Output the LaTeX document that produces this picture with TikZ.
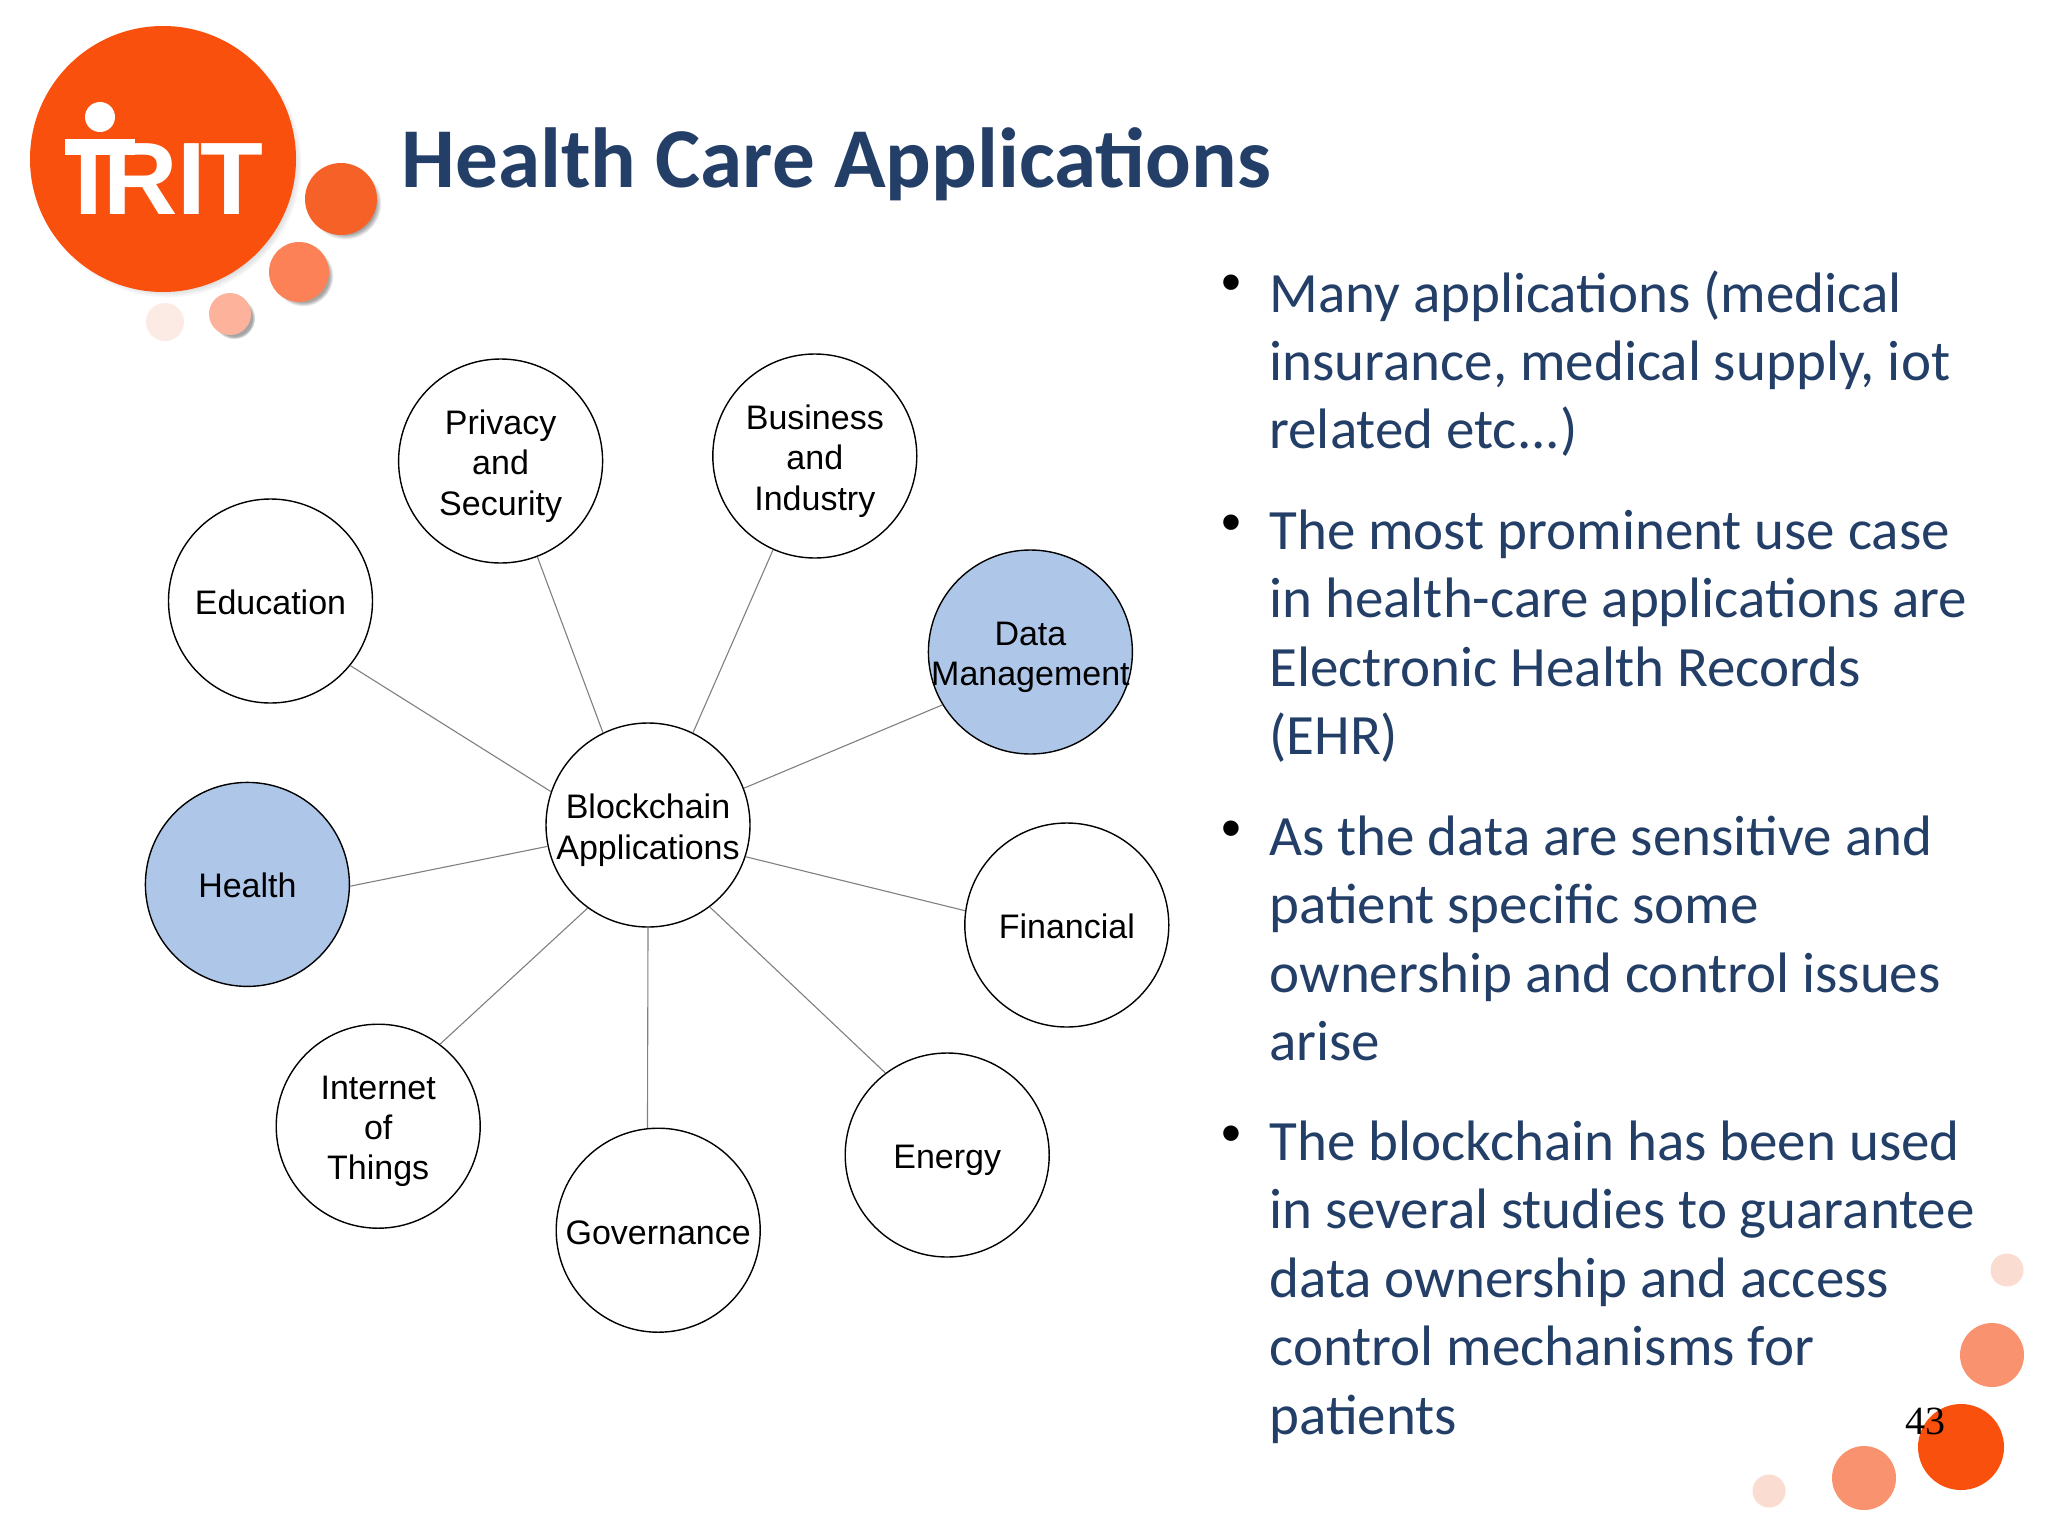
\documentclass[tikz,border=0pt]{standalone}
\usepackage{fontspec}
\usetikzlibrary{shadows}
\setmainfont{Liberation Sans}
\newfontfamily\carlitofont{Carlito}
\newfontfamily\timesfont{Liberation Serif}
\definecolor{irit}{HTML}{F9500D}
\definecolor{navy}{HTML}{233F68}
\definecolor{bubbleblue}{HTML}{AEC6E8}
\tikzset{
  bubble/.style={circle, draw=black, line width=0.7pt, fill=white, minimum size=102pt, inner sep=0pt},
  bubbletext/.style={align=center, inner sep=0pt, text=black, font=\fontsize{17}{20.2}\selectfont},
  link/.style={draw=black!50, line width=0.55pt},
  ball/.style={circular drop shadow={shadow xshift=2pt, shadow yshift=-2pt, shadow scale=1.01, opacity=0.7}},
  bodytext/.style={anchor=north west, align=left, inner sep=0pt, text=navy, font=\carlitofont\fontsize{28.5}{34.2}\selectfont},
  dotmark/.style={inner sep=0pt, text=black, font=\fontsize{28.4}{34}\selectfont}
}
\begin{document}
\begin{tikzpicture}[x=0.5pt, y=-0.5pt]
  \useasboundingbox (0,0) rectangle (2048,1536);
  \fill[white] (0,0) rectangle (2048,1536);

  \fill[irit, ball] (163,159) circle (133);
  \fill[white] (65,139) rectangle (135,155);
  \fill[white] (100,117) circle (15);
  \node (logotext) at (74,214) [anchor=base west, inner sep=0pt, text=white, font=\bfseries\fontsize{51.5}{51.5}\selectfont] {IRI\kern-3pt T};
  \fill[fill={rgb,255:red,246;green,97;blue,40}, ball] (341,199) circle (36);
  \fill[fill={rgb,255:red,252;green,129;blue,86}, ball] (299,272) circle (30);
  \fill[fill={rgb,255:red,253;green,179;blue,155}, ball] (230,314) circle (21);
  \fill[fill={rgb,255:red,252;green,235;blue,228}] (165,322) circle (19);

  \node (title) at (401,187) [anchor=base west, inner sep=0pt, text=navy, font=\carlitofont\bfseries\fontsize{42.6}{50}\selectfont] {Health Care Applications};

  \node (hub) at (648,825) [bubble, label={[bubbletext, yshift=-2.6pt]center:Blockchain\\Applications}] {};
  \node (privacy) at (500.6,461) [bubble, label={[bubbletext, yshift=-2.6pt]center:Privacy\\and\\Security}] {};
  \node (business) at (814.8,456) [bubble, label={[bubbletext, yshift=-2.6pt]center:Business\\and\\Industry}] {};
  \node (education) at (270.5,601) [bubble, label={[bubbletext, yshift=-0.6pt]center:Education}] {};
  \node (datamgmt) at (1030.4,652) [bubble, fill=bubbleblue, label={[bubbletext, yshift=-2.6pt]center:Data\\Management}] {};
  \node (health) at (247.4,884.4) [bubble, fill=bubbleblue, label={[bubbletext, yshift=-0.6pt]center:Health}] {};
  \node (financial) at (1066.8,925) [bubble, label={[bubbletext, yshift=-0.6pt]center:Financial}] {};
  \node (iot) at (378.2,1126.2) [bubble, label={[bubbletext, yshift=-2.6pt]center:Internet\\of\\Things}] {};
  \node (governance) at (658.2,1230.2) [bubble, label={[bubbletext, yshift=-1.3pt]center:Governance}] {};
  \node (energy) at (947.2,1155) [bubble, label={[bubbletext, yshift=-2.6pt]center:Energy}] {};

  \foreach \target/\from/\to in {privacy/116/291, business/64/246, datamgmt/21/211, financial/342/172,
      energy/307/127, governance/270/96, iot/234/53, health/192/359, education/161/321}
    \draw[link] (hub.\from) -- (\target.\to);

  \node (mark1) at (1231,288) [dotmark] {•};
  \node (mark2) at (1231,528) [dotmark] {•};
  \node (mark3) at (1231,834) [dotmark] {•};
  \node (mark4) at (1231,1139) [dotmark] {•};
  \node (point1) at (1269,270) [bodytext] {Many applications (medical\\insurance, medical supply, iot\\related etc...)};
  \node (point2) at (1269,509.5) [bodytext] {The most prominent use case\\in health-care applications are\\Electronic Health Records\\(EHR)};
  \node (point3) at (1269,815.5) [bodytext] {As the data are sensitive and\\patient specific some\\ownership and control issues\\arise};
  \node (point4) at (1269,1120.5) [bodytext] {The blockchain has been used\\in several studies to guarantee\\data ownership and access\\control mechanisms for\\patients};

  \fill[fill={rgb,255:red,251;green,220;blue,208}] (2007,1270) circle (16.5);
  \fill[fill={rgb,255:red,249;green,146;blue,111}] (1992,1355) circle (32);
  \fill[irit] (1961,1447) circle (43);
  \fill[fill={rgb,255:red,249;green,146;blue,111}] (1864,1478) circle (32);
  \fill[fill={rgb,255:red,251;green,220;blue,208}] (1769,1491) circle (16.5);
  \node (pagenum) at (1925,1434) [anchor=base, inner sep=0pt, text=black, font=\timesfont\fontsize{20}{24}\selectfont] {43};
\end{tikzpicture}
\end{document}
